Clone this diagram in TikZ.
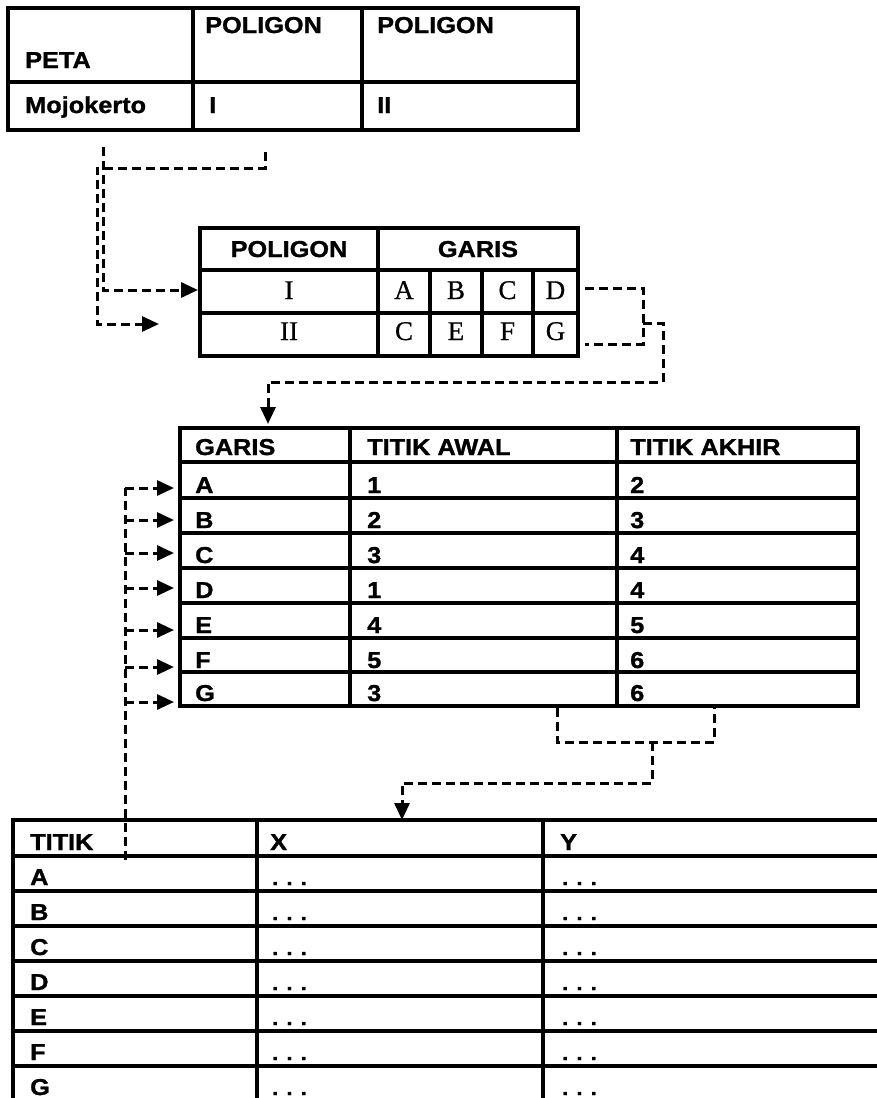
\documentclass[tikz,border=0pt]{standalone}
\usepackage{fontspec}
\setmainfont{Liberation Sans}[FakeStretch=1.1,BoldFeatures={FakeBold=1.2}]
\newfontfamily\serifx{Liberation Serif}[FakeBold=0.6]
\usetikzlibrary{arrows.meta}
\begin{document}
\begin{tikzpicture}[x=1pt,y=-1pt,
  tline/.style={line width=3.5pt},
  tbord/.style={line width=4.5pt},
  lab/.style={anchor=base west,inner sep=0pt,font=\fontsize{23}{23}\selectfont\bfseries},
  clab/.style={anchor=base,inner sep=0pt,font=\fontsize{23}{23}\selectfont\bfseries},
  slab/.style={anchor=base,inner sep=0pt,font=\fontsize{27}{27}\selectfont\serifx},
  dlab/.style={anchor=base west,inner sep=0pt,font=\fontsize{20}{20}\selectfont\bfseries},
  conn/.style={line width=3pt,dash pattern=on 9pt off 5pt},
  arr/.style={conn,-{Triangle[length=17pt,width=15pt]}}]
\useasboundingbox (0,0) rectangle (876,1098);
\fill[white] (0,0) rectangle (876,1098);

% ---------- Table 1 ----------
\draw[tbord] (8,8) rectangle (578,130);
\draw[tline] (8,82) -- (578,82);
\draw[tline] (193,8) -- (193,130);
\draw[tline] (362,8) -- (362,130);
\node[lab] (peta) at (25,68) {PETA};
\node[lab] (pol1) at (205,33) {POLIGON};
\node[lab] (pol2) at (377,33) {POLIGON};
\node[lab] (moj) at (25,113) {Mojokerto};
\node[lab] (r1) at (209,113) {I};
\node[lab] (r2) at (377,113) {II};

% ---------- Table 2 ----------
\draw[tbord] (200,228) rectangle (578,356);
\draw[tline] (200,270) -- (578,270);
\draw[tline] (200,313) -- (578,313);
\draw[tline] (378,228) -- (378,356);
\draw[tline] (430,270) -- (430,356);
\draw[tline] (482,270) -- (482,356);
\draw[tline] (533,270) -- (533,356);
\node[clab] (h2a) at (289,257) {POLIGON};
\node[clab] (h2b) at (478,257) {GARIS};
\node[slab] (pI) at (289,299) {I};
\node[slab] (pII) at (289,340) {II};
\node[slab] (gA) at (404,299) {A};
\node[slab] (gB) at (456,299) {B};
\node[slab] (gC) at (507.5,299) {C};
\node[slab] (gD) at (555.5,299) {D};
\node[slab] (gC2) at (404,340) {C};
\node[slab] (gE) at (456,340) {E};
\node[slab] (gF) at (507.5,340) {F};
\node[slab] (gG) at (555.5,340) {G};

% ---------- Table 3 ----------
\draw[tbord] (180,428) rectangle (858,706);
\foreach \y in {462,498,533,568,603,638,672} \draw[tline] (180,\y) -- (858,\y);
\draw[tline] (350,428) -- (350,706);
\draw[tline] (617,428) -- (617,706);
\node[lab] (h3a) at (195,455) {GARIS};
\node[lab] (h3b) at (367,455) {TITIK AWAL};
\node[lab] (h3c) at (630,455) {TITIK AKHIR};
\foreach \n/\yb/\aw/\ak in {A/493/1/2,B/528/2/3,C/563/3/4,D/598/1/4,E/633/4/5,F/668/5/6,G/701/3/6}{
  \node[lab] (l\n) at (195,\yb) {\n};
  \node[lab] (aw\n) at (367,\yb) {\aw};
  \node[lab] (ak\n) at (630,\yb) {\ak};
}

% ---------- Table 4 ----------
\draw[tbord] (13,1100) -- (13,820) -- (890,820);
\draw[tline] (13,1100) -- (890,1100);
\foreach \y in {856,891,926,961,996,1031,1066} \draw[tline] (13,\y) -- (890,\y);
\draw[tline] (257,820) -- (257,1100);
\draw[tline] (543,820) -- (543,1100);
\node[lab] (h4a) at (30,850) {TITIK};
\node[lab] (h4b) at (270,850) {X};
\node[lab] (h4c) at (560,850) {Y};
\foreach \n/\yb in {A/885,B/920,C/955,D/990,E/1025,F/1060,G/1095}{
  \node[lab] (t\n) at (30,\yb) {\n};
  \node[dlab] (x\n) at (272,\yb) {. . .};
  \node[dlab] (y\n) at (562,\yb) {. . .};
}

% ---------- connectors ----------
\coordinate (a1) at (103,147);
\coordinate (t2I) at (198,290);
\draw[arr] (a1) |- (t2I);

\coordinate (b1) at (265,152);
\coordinate (b2) at (97,168);
\coordinate (b3) at (159,324);
\draw[arr] (b1) |- (b2) |- (b3);

\coordinate (d1) at (585,288);
\coordinate (d2) at (643,288);
\coordinate (g2) at (643,344);
\coordinate (g1) at (585,344);
\draw[conn] (d1) -- (d2) -- (g2) -- (g1);
\coordinate (tap1) at (643,323);
\coordinate (c1) at (663,382);
\coordinate (t3top) at (268,424);
\draw[arr] (tap1) -| (c1) -| (t3top);

\coordinate (e1) at (557,708);
\coordinate (e2) at (714,742);
\coordinate (e3) at (714,708);
\draw[conn] (e1) |- (e2) -- (e3);
\coordinate (tap2) at (652,742);
\coordinate (f1) at (652,783);
\coordinate (t4top) at (402,820);
\draw[arr] (tap2) -- (f1) -| (t4top);

\coordinate (v0) at (125,860);
\coordinate (vA) at (125,488);
\draw[conn] (v0) -- (vA);
\foreach \n/\y in {A/488,B/520,C/553,D/588,E/630,F/667,G/702}{
  \coordinate (s\n) at (125,\y);
  \coordinate (e\n) at (174,\y);
  \draw[arr] (s\n) -- (e\n);
}
\end{tikzpicture}
\end{document}
